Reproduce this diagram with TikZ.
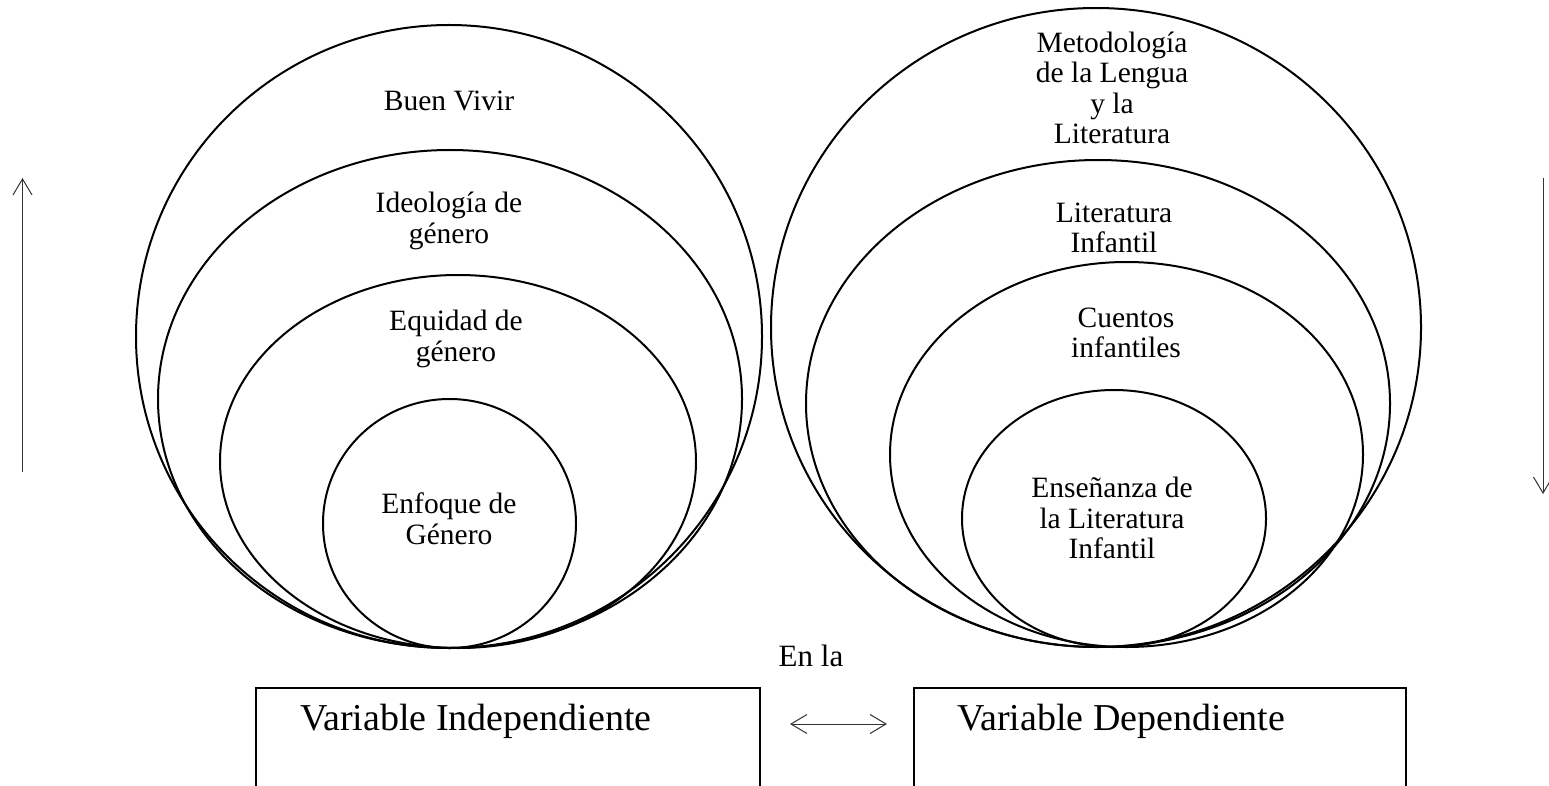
\documentclass[tikz,border=0pt]{standalone}
\usepackage{fontspec}
\setmainfont{Liberation Serif}
\usetikzlibrary{arrows.meta}
\begin{document}
\begin{tikzpicture}[x=1pt,y=-1pt,
  ell/.style={draw, line width=2pt},
  lab/.style={align=center, font=\fontsize{29.5}{30.5}\selectfont, inner sep=0pt},
  boxlab/.style={font=\fontsize{38}{40}\selectfont, inner sep=0pt, anchor=west},
  varbox/.style={draw, line width=1.8pt, minimum width=504pt, minimum height=103pt, anchor=north west, inner sep=0pt},
  thinarrow/.style={line width=1pt, draw=black!80, -{Straight Barb[length=16pt,width=19pt,line width=1pt]}},
  thinboth/.style={line width=1pt, draw=black!80, {Straight Barb[length=16pt,width=19pt,line width=1pt]}-{Straight Barb[length=16pt,width=19pt,line width=1pt]}}]
\useasboundingbox[fill=white] (0,0) rectangle (1549,786);
\clip (0,0) rectangle (1549,786);

% left group
\draw[ell] (449,336.5) ellipse [x radius=313, y radius=311.5];
\draw[ell] (450,399) ellipse [x radius=292, y radius=249];
\draw[ell] (458,461.5) ellipse [x radius=238, y radius=186.5];
\draw[ell] (449.5,523.5) ellipse [x radius=126.5, y radius=124.5];

\node[lab] (bv) at (449,101) {Buen Vivir};
\node[lab] (ig) at (449,221) {Ideología de\\género};
\node[lab] (eg) at (456,339) {Equidad de\\género};
\node[lab] (fg) at (449,519) {Enfoque de\\Género};

% right group
\draw[ell] (1096,327.5) ellipse [x radius=325, y radius=319.5];
\draw[ell] (1098,403.5) ellipse [x radius=292, y radius=243.5];
\draw[ell] (1126.5,454.5) ellipse [x radius=236.5, y radius=192.5];
\draw[ell] (1114,518.5) ellipse [x radius=152, y radius=128.5];

\node[lab] (ml) at (1112,88) {Metodología\\de la Lengua\\y la\\Literatura};
\node[lab] (li) at (1114,228) {Literatura\\Infantil};
\node[lab] (ci) at (1126,333) {Cuentos\\infantiles};
\node[lab] (el) at (1112,518) {Enseñanza de\\la Literatura\\Infantil};

\node[font=\fontsize{31}{34}\selectfont, inner sep=0pt] (enla) at (811,656) {En la};

% boxes
\node[varbox] (vi) at (255,687) {};
\node[varbox, minimum width=492pt] (vd) at (913,687) {};
\node[boxlab] (vit) at (300,721) {Variable Independiente};
\node[boxlab] (vdt) at (957,721) {Variable Dependiente};

% arrows
\coordinate (aL) at (790,724);
\coordinate (aR) at (887,724);
\draw[thinboth] (aL) -- (aR);

\coordinate (upS) at (22.5,472);
\coordinate (upE) at (22.5,178);
\draw[thinarrow] (upS) -- (upE);

\coordinate (dnS) at (1543,178);
\coordinate (dnE) at (1543,494);
\draw[thinarrow] (dnS) -- (dnE);
\end{tikzpicture}
\end{document}
